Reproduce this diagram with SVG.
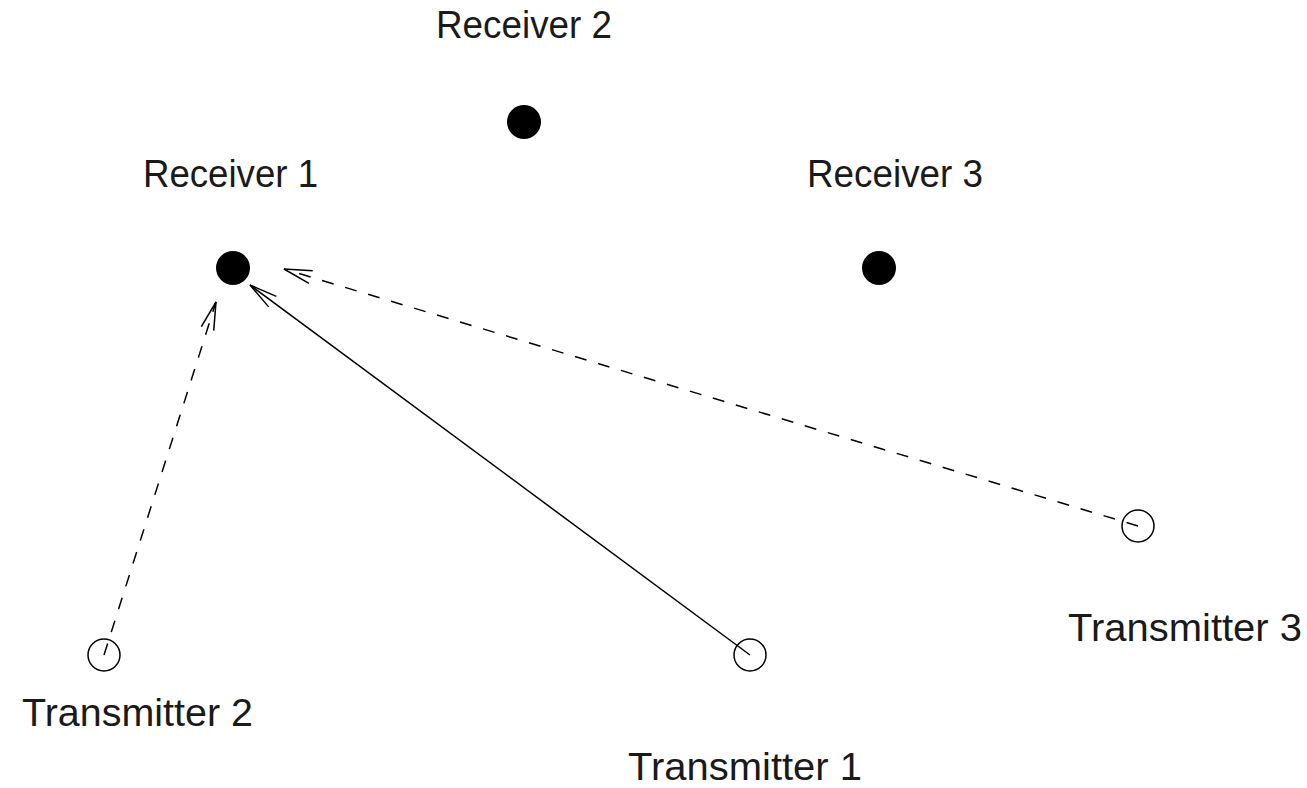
<svg xmlns="http://www.w3.org/2000/svg" width="1307" height="788" viewBox="0 0 1307 788">
  <style>
    .label { font-family: "Liberation Sans", Arial, sans-serif; font-size: 38px; fill: #1a1a1a; }
    .rx { fill: #000; }
    .tx { fill: none; stroke: #000; stroke-width: 1.5; }
    .link { fill: none; stroke: #000; stroke-width: 1.5; marker-end: url(#open-arrow); }
    .dashed { stroke-dasharray: 12 12; }
  </style>
  <defs>
    <marker id="open-arrow" markerUnits="userSpaceOnUse" markerWidth="40" markerHeight="20" viewBox="-30 -10 32 20" refX="0" refY="0" orient="auto">
      <path d="M -28 -6.5 L 0 0 L -28 6.5" fill="none" stroke="#000" stroke-width="1.5"/>
    </marker>
  </defs>
  <rect width="1307" height="788" fill="#fff"/>

  <!-- receivers -->
  <g id="receiver-1">
    <circle class="rx" cx="233" cy="268" r="17"/>
    <text class="label" x="143" y="187" textLength="175" lengthAdjust="spacingAndGlyphs">Receiver 1</text>
  </g>
  <g id="receiver-2">
    <circle class="rx" cx="524" cy="122" r="17"/>
    <text class="label" x="436" y="38" textLength="176" lengthAdjust="spacingAndGlyphs">Receiver 2</text>
  </g>
  <g id="receiver-3">
    <circle class="rx" cx="879" cy="268" r="17"/>
    <text class="label" x="807" y="187" textLength="176" lengthAdjust="spacingAndGlyphs">Receiver 3</text>
  </g>

  <!-- transmitters -->
  <g id="transmitter-1">
    <circle class="tx" cx="750" cy="655" r="16"/>
    <text class="label" x="628" y="780" textLength="234" lengthAdjust="spacingAndGlyphs">Transmitter 1</text>
  </g>
  <g id="transmitter-2">
    <circle class="tx" cx="104" cy="655" r="16"/>
    <text class="label" x="22" y="726" textLength="231" lengthAdjust="spacingAndGlyphs">Transmitter 2</text>
  </g>
  <g id="transmitter-3">
    <circle class="tx" cx="1138" cy="526" r="16"/>
    <text class="label" x="1068" y="641" textLength="234" lengthAdjust="spacingAndGlyphs">Transmitter 3</text>
  </g>

  <!-- signal paths -->
  <g id="connectors">
    <line class="link" x1="750" y1="655" x2="250" y2="285"/>
    <line class="link dashed" x1="104" y1="655" x2="216" y2="302"/>
    <line class="link dashed" x1="1138" y1="526" x2="284" y2="269"/>
  </g>
</svg>
